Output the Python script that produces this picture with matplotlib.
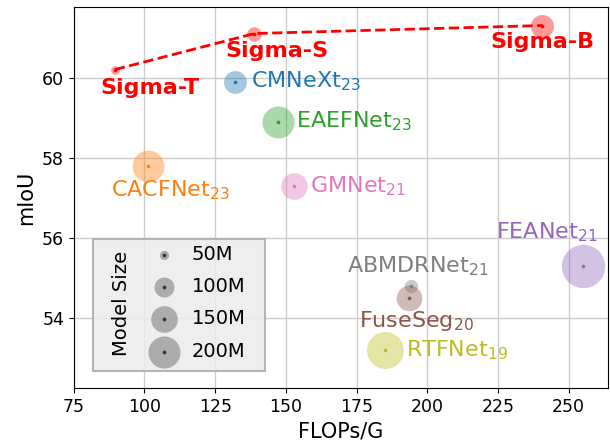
import matplotlib
matplotlib.use('Agg')
from matplotlib import pyplot as plt
from matplotlib.patches import Rectangle

# models: FLOPs (G), mIoU, params (M)
names = ['CMNeXt$_{23}$', 'EAEFNet$_{23}$', 'CACFNet$_{23}$', 'GMNet$_{21}$', 'FEANet$_{21}$',
         'ABMDRNet$_{21}$', 'FuseSeg$_{20}$', 'RTFNet$_{19}$']
flops = [131.9, 147.3, 101.4, 153.0, 255.2, 194.3, 193.4, 185.2]
miou = [59.9, 58.9, 57.8, 57.3, 55.3, 54.8, 54.5, 53.2]
params = [119.6, 200.4, 198.6, 149.8, 337.1, 64.6, 141.5, 254.5]
colors = ['C0', 'C2', 'C1', 'C6', 'C4', 'C7', 'C5', 'C8']

sigma_names = ['Sigma-T', 'Sigma-S', 'Sigma-B']
sigma_flops = [89.5, 138.9, 240.7]
sigma_miou = [60.2, 61.1, 61.3]
sigma_params = [48.3, 69.8, 121.4]

legend_sizes = [50, 100, 150, 200]

# label offsets in points (dx, dy, ha)
offsets = [(12, 0, 'left'), (12.5, 0, 'left'), (16, -17.5, 'center'), (11, 0, 'left'),
           (-26.5, 24, 'center'), (5, 14.5, 'center'), (5.5, -16.5, 'center'), (14.5, 0, 'left')]
sigma_offsets = [(25, -13), (16, -12.5), (0, -12)]


def bubble(m):
    return 3.24 * m - 117


fig = plt.figure(figsize=(6.1, 4.4), dpi=100)
ax = fig.add_axes([0.121, 0.118, 0.876, 0.865])
ax.grid(True, color='#cccccc', linewidth=1, zorder=0)
ax.set_axisbelow(True)

for i in range(len(names)):
    ax.scatter(flops[i], miou[i], s=bubble(params[i]), color=colors[i], alpha=0.4, linewidths=0, zorder=2)
    ax.scatter(flops[i], miou[i], s=7, color=colors[i], linewidths=0, zorder=3)
    dx, dy, ha = offsets[i]
    ax.annotate(names[i], (flops[i], miou[i]), xytext=(dx, dy), textcoords='offset points',
                ha=ha, va='center', fontsize=16, color=colors[i])

ax.plot(sigma_flops, sigma_miou, '--', color='red', lw=2, zorder=3)
for i in range(3):
    ax.scatter(sigma_flops[i], sigma_miou[i], s=bubble(sigma_params[i]), color='red', alpha=0.4,
               linewidths=0, zorder=2)
    ax.scatter(sigma_flops[i], sigma_miou[i], s=7, color='red', linewidths=0, zorder=4)
    dx, dy = sigma_offsets[i]
    ax.annotate(sigma_names[i], (sigma_flops[i], sigma_miou[i]), xytext=(dx, dy), textcoords='offset points',
                ha='center', va='center', fontsize=16, color='red', fontweight='bold')

ax.set_xlim(75, 264)
ax.set_ylim(52.25, 61.75)
ax.set_xticks([75, 100, 125, 150, 175, 200, 225, 250])
ax.set_yticks([54, 56, 58, 60])
ax.tick_params(labelsize=12.5)
ax.set_xlabel('FLOPs/G', fontsize=15)
ax.set_ylabel('mIoU', fontsize=15)

# model size legend
ax.add_patch(Rectangle((0.035, 0.045), 0.323, 0.346, transform=ax.transAxes, facecolor='#ebebeb',
                       edgecolor='#aaaaaa', linewidth=1.5, alpha=0.85, zorder=5))
ax.text(0.089, 0.223, 'Model Size', rotation=90, transform=ax.transAxes, ha='center', va='center',
        fontsize=14, zorder=6)
handles = []
for m in legend_sizes:
    big = ax.scatter([], [], s=bubble(m), color='gray', alpha=0.6, linewidths=0)
    dot = ax.scatter([], [], s=7, color='#333333', linewidths=0)
    handles.append((big, dot))
leg = ax.legend(handles, [str(m) + 'M' for m in legend_sizes], loc='center left',
                bbox_to_anchor=(0.133, 0.224), borderaxespad=0, frameon=False, fontsize=14,
                handlelength=1.2, handletextpad=0.8, labelspacing=0.68, scatterpoints=1)
leg.set_zorder(7)

plt.savefig('out.png')
